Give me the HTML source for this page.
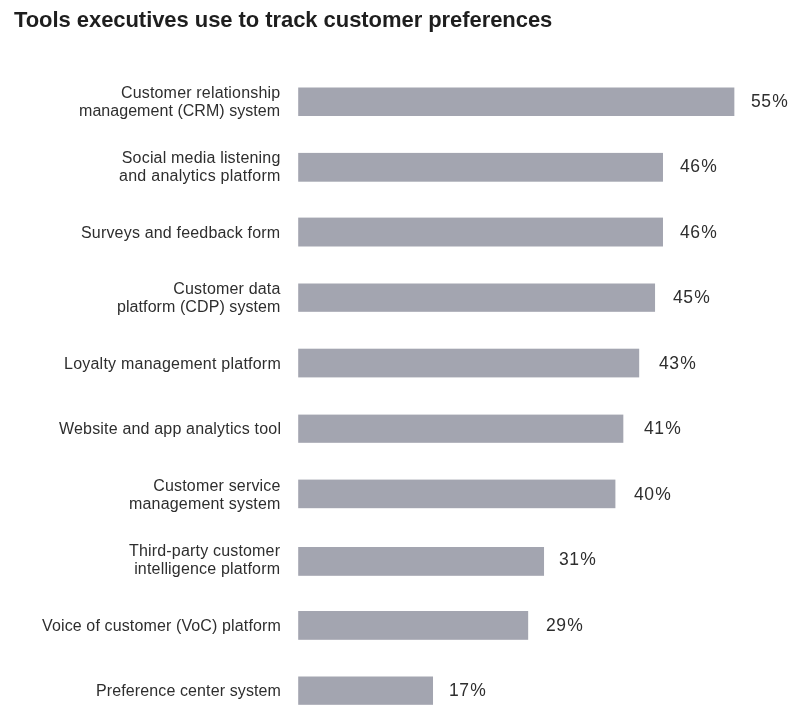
<!DOCTYPE html>
<html><head><meta charset="utf-8"><style>
html,body{margin:0;padding:0;background:#fff;}
body{width:810px;height:714px;position:relative;overflow:hidden;font-family:"Liberation Sans",sans-serif;color:#2e2e2e;-webkit-font-smoothing:antialiased;}
.t{position:absolute;will-change:transform;left:14px;top:7px;font-size:22px;line-height:26px;font-weight:bold;color:#1e1e1e;white-space:nowrap;letter-spacing:-0.06px;}
.lab{position:absolute;will-change:transform;text-align:right;font-size:16px;letter-spacing:0.18px;line-height:17.7px;white-space:nowrap;}
.lab span{margin-right:-0.18px}
.bar{position:absolute;left:298.2px;height:28.5px;background:#a3a5b0;}
.v{position:absolute;will-change:transform;font-size:17.5px;letter-spacing:0.5px;line-height:20px;white-space:nowrap;}
</style></head><body>
<div class="t">Tools executives use to track customer preferences</div>

<svg style="position:absolute;left:0;top:0" width="810" height="714" fill="#a3a5b0"><rect x="298.2" y="87.5" width="436.15" height="28.50"/><rect x="298.2" y="152.9" width="364.78" height="28.80"/><rect x="298.2" y="217.6" width="364.78" height="28.90"/><rect x="298.2" y="283.5" width="356.85" height="28.30"/><rect x="298.2" y="348.7" width="340.99" height="28.70"/><rect x="298.2" y="414.6" width="325.13" height="28.20"/><rect x="298.2" y="479.6" width="317.20" height="28.60"/><rect x="298.2" y="547.0" width="245.83" height="28.80"/><rect x="298.2" y="611.0" width="229.97" height="28.80"/><rect x="298.2" y="676.5" width="134.81" height="28.30"/></svg>
<div class="lab" style="right:529.50px;top:83.65px"><span style="letter-spacing:0.180px;margin-right:-0.180px">Customer relationship</span><br><span style="letter-spacing:0.050px;margin-right:-0.050px">management (CRM) system</span></div>
<div class="v" style="top:90.85px;left:751.35px">55<span style="margin-left:0.9px">%</span></div>
<div class="lab" style="right:529.50px;top:149.15px"><span style="letter-spacing:0.180px;margin-right:-0.180px">Social media listening</span><br><span style="letter-spacing:0.270px;margin-right:-0.270px">and analytics platform</span></div>
<div class="v" style="top:156.35px;left:679.98px">46<span style="margin-left:0.9px">%</span></div>
<div class="lab" style="right:529.50px;top:223.50px"><span style="letter-spacing:0.180px;margin-right:-0.180px">Surveys and feedback form</span></div>
<div class="v" style="top:221.85px;left:679.98px">46<span style="margin-left:0.9px">%</span></div>
<div class="lab" style="right:529.50px;top:280.15px"><span style="letter-spacing:0.180px;margin-right:-0.180px">Customer data</span><br><span style="letter-spacing:0.080px;margin-right:-0.080px">platform (CDP) system</span></div>
<div class="v" style="top:287.35px;left:673.05px">45<span style="margin-left:0.9px">%</span></div>
<div class="lab" style="right:529.50px;top:354.50px"><span style="letter-spacing:0.230px;margin-right:-0.230px">Loyalty management platform</span></div>
<div class="v" style="top:352.85px;left:659.19px">43<span style="margin-left:0.9px">%</span></div>
<div class="lab" style="right:529.50px;top:420.00px"><span style="letter-spacing:0.180px;margin-right:-0.180px">Website and app analytics tool</span></div>
<div class="v" style="top:418.35px;left:643.83px">41<span style="margin-left:0.9px">%</span></div>
<div class="lab" style="right:529.50px;top:476.65px"><span style="letter-spacing:0.180px;margin-right:-0.180px">Customer service</span><br><span style="letter-spacing:0.180px;margin-right:-0.180px">management system</span></div>
<div class="v" style="top:483.85px;left:633.90px">40<span style="margin-left:0.9px">%</span></div>
<div class="lab" style="right:529.50px;top:542.15px"><span style="letter-spacing:0.180px;margin-right:-0.180px">Third-party customer</span><br><span style="letter-spacing:0.180px;margin-right:-0.180px">intelligence platform</span></div>
<div class="v" style="top:549.35px;left:558.53px">31<span style="margin-left:0.9px">%</span></div>
<div class="lab" style="right:529.50px;top:616.50px"><span style="letter-spacing:0.130px;margin-right:-0.130px">Voice of customer (VoC) platform</span></div>
<div class="v" style="top:614.85px;left:545.67px">29<span style="margin-left:0.9px">%</span></div>
<div class="lab" style="right:529.50px;top:682.00px"><span style="letter-spacing:0.115px;margin-right:-0.115px">Preference center system</span></div>
<div class="v" style="top:680.35px;left:448.51px">17<span style="margin-left:0.9px">%</span></div>
</body></html>
